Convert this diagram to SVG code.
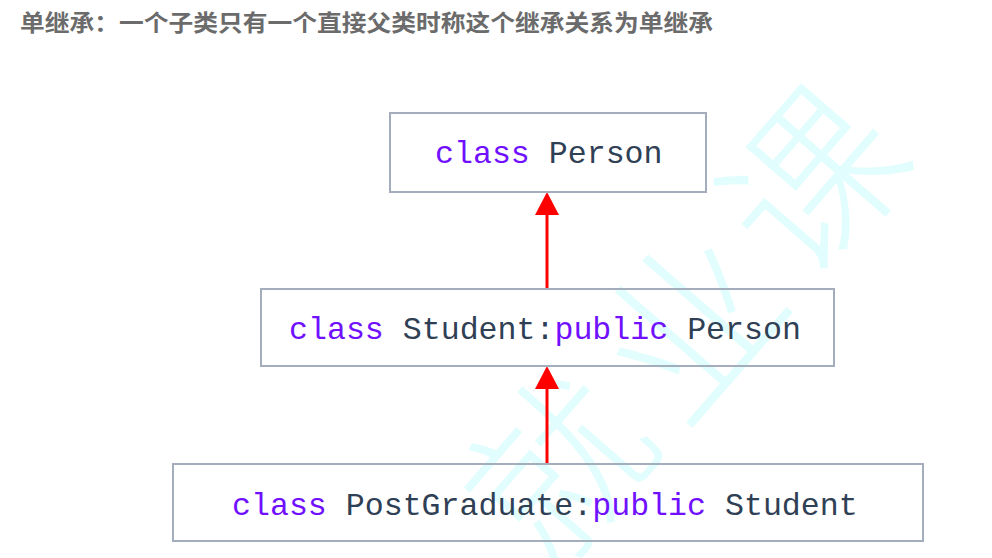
<svg xmlns="http://www.w3.org/2000/svg" width="992" height="558" viewBox="0 0 992 558">
<style>
.title{font-family:"Noto Sans CJK SC","Noto Sans",sans-serif;font-weight:700;font-size:23px;fill:#6b6b6b}
.wm{font-family:"Noto Sans CJK SC",sans-serif;font-weight:300;font-size:175px;fill:#e2fdfd}
.box{fill:none;stroke:#a3adbc;stroke-width:2}
.code{font-family:"Liberation Mono",monospace;font-size:31.6px;fill:#2f4055}
.kw{fill:#7010ff}
.conn{stroke:#ff0000;stroke-width:3;fill:none}
</style>
<rect width="992" height="558" fill="#ffffff"/>
<g id="watermark">
<text class="wm" x="0" y="0" transform="translate(608,510) rotate(-49)" text-anchor="middle">就</text>
<text class="wm" x="0" y="0" transform="translate(740,368) rotate(-49)" text-anchor="middle">业</text>
<text class="wm" x="0" y="0" transform="translate(862,224) rotate(-49)" text-anchor="middle">课</text>
</g>
<text class="title" x="20" y="31" textLength="693" lengthAdjust="spacingAndGlyphs">单继承：一个子类只有一个直接父类时称这个继承关系为单继承</text>
<g id="connectors">
<line class="conn" x1="547" y1="289" x2="547" y2="212"/>
<path d="M547 192 L559 215 L535 215 Z" fill="#ff0000"/>
<line class="conn" x1="547" y1="464" x2="547" y2="386"/>
<path d="M547 366 L559 389 L535 389 Z" fill="#ff0000"/>
</g>
<g id="person">
<rect class="box" x="390" y="113" width="316" height="79"/>
<text class="code" x="435" y="163" xml:space="preserve"><tspan class="kw">class</tspan> Person</text>
</g>
<g id="student">
<rect class="box" x="261" y="289" width="573" height="77"/>
<text class="code" x="289" y="339" xml:space="preserve"><tspan class="kw">class</tspan> Student:<tspan class="kw">public</tspan> Person</text>
</g>
<g id="postgraduate">
<rect class="box" x="173" y="464" width="750" height="77"/>
<text class="code" x="232" y="515" xml:space="preserve"><tspan class="kw">class</tspan> PostGraduate:<tspan class="kw">public</tspan> Student</text>
</g>
</svg>
